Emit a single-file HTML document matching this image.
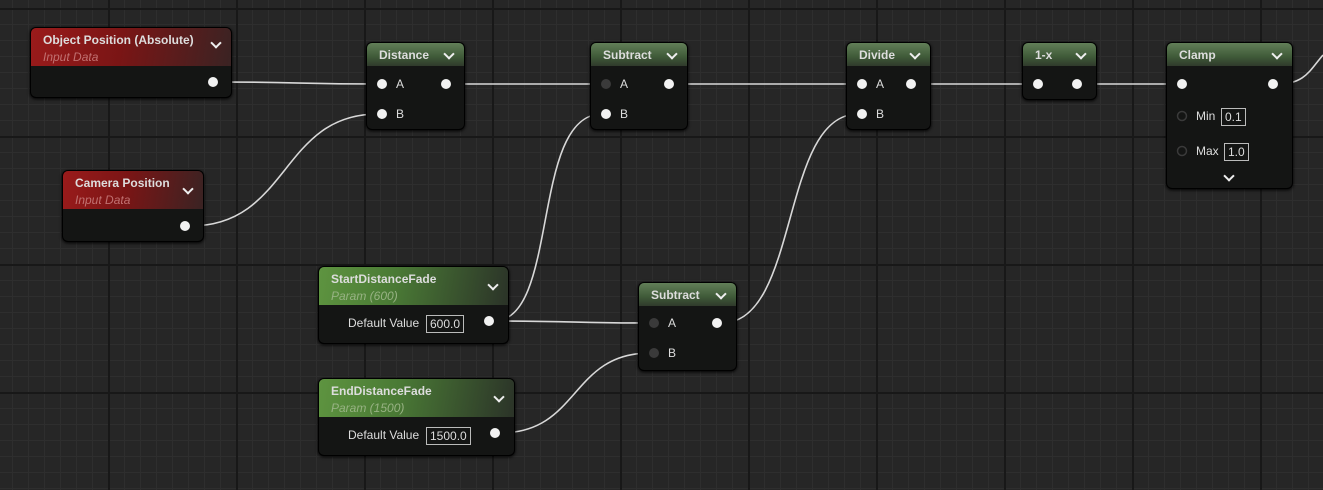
<!DOCTYPE html>
<html><head><style>
body{margin:0;width:1323px;height:490px;overflow:hidden;background:#262626;font-family:"Liberation Sans",sans-serif;position:relative}
.grid{position:absolute;inset:0;
background-image:
linear-gradient(to right,#181818 2px,transparent 2px),
linear-gradient(to bottom,#181818 2px,transparent 2px),
linear-gradient(to right,#2e2e2e 1px,transparent 1px),
linear-gradient(to bottom,#2e2e2e 1px,transparent 1px);
background-size:128px 128px,128px 128px,16px 16px,16px 16px;
background-position:-20px 8px,-20px 8px,-20px 8px,-20px 8px}
.n{position:absolute;box-sizing:border-box;background:#141514;border:1px solid #000;border-radius:6px;box-shadow:0 1px 3px #000;overflow:hidden}
.h{position:absolute;left:0;right:0;top:0;color:#ddd;font-weight:bold;font-size:12px;padding:5px 12px}
.g{background:linear-gradient(to bottom,#627f58,#3f5a38 60%,#303a2c)}
.g2{background:linear-gradient(100deg,#5e9440 0%,#4a7a35 40%,#2b3328 100%)}
.r{background:linear-gradient(100deg,#9a1b1b 0%,#7a1515 45%,#3a2323 100%)}
.sub{font-style:italic;font-weight:normal;font-size:12px;margin-top:3px}
.r .sub{color:#c07070}.g2 .sub{color:#97b283}
.chev{position:absolute;right:11px;top:7px;width:6px;height:6px;border-right:2px solid #eee;border-bottom:2px solid #eee;transform:rotate(45deg)}
.t{position:absolute;color:#ddd;font-size:12px}
.box{position:absolute;border:1px solid #bbb;color:#ddd;font-size:12px;padding:1px 3px;height:14px;line-height:14px}
</style></head><body>
<div class="grid"></div>
<svg width="1323" height="490" style="position:absolute;left:0;top:0">
<g fill="none" stroke="#d8d8d8" stroke-width="1.6">
<path d="M218,82 C300,82 300,84 378,84"/>
<path d="M190,226 C290,226 280,114 378,114"/>
<path d="M451,84 L602,84"/>
<path d="M494,321 C560,321 530,114 602,114"/>
<path d="M494,321 C570,321 580,323 650,323"/>
<path d="M500,433 C580,433 570,353 650,353"/>
<path d="M674,84 L858,84"/>
<path d="M722,323 C800,323 780,114 858,114"/>
<path d="M916,84 L1034,84"/>
<path d="M1082,84 L1178,84"/>
<path d="M1278,84 C1305,84 1310,70 1323,55"/>
</g></svg>
<div class="n" style="left:30px;top:27px;width:202px;height:71px"><div class="h r" style="height:28px">Object Position  (Absolute)<div class="sub">Input Data</div></div><div class="chev" style="top:11px"></div></div>
<div class="n" style="left:62px;top:170px;width:142px;height:72px"><div class="h r" style="height:28px">Camera Position<div class="sub">Input Data</div></div><div class="chev" style="top:14px"></div></div>
<div class="n" style="left:366px;top:42px;width:99px;height:88px"><div class="h g" style="height:13px;padding-left:12px">Distance</div><div class="chev"></div></div>
<div class="n" style="left:590px;top:42px;width:98px;height:88px"><div class="h g" style="height:13px">Subtract</div><div class="chev"></div></div>
<div class="n" style="left:846px;top:42px;width:85px;height:88px"><div class="h g" style="height:13px">Divide</div><div class="chev"></div></div>
<div class="n" style="left:1022px;top:42px;width:75px;height:58px"><div class="h g" style="height:13px">1-x</div><div class="chev"></div></div>
<div class="n" style="left:1166px;top:42px;width:127px;height:147px"><div class="h g" style="height:13px">Clamp</div><div class="chev"></div></div>
<div class="n" style="left:318px;top:266px;width:191px;height:78px"><div class="h g2" style="height:28px">StartDistanceFade<div class="sub">Param (600)</div></div><div class="chev" style="top:14px"></div></div>
<div class="n" style="left:638px;top:282px;width:99px;height:89px"><div class="h g" style="height:13px">Subtract</div><div class="chev"></div></div>
<div class="n" style="left:318px;top:378px;width:197px;height:78px"><div class="h g2" style="height:28px">EndDistanceFade<div class="sub">Param (1500)</div></div><div class="chev" style="top:14px"></div></div>
<svg width="1323" height="490" style="position:absolute;left:0;top:0">
<g fill="#f2f2f2">
<circle cx="213" cy="82" r="5"/><circle cx="185" cy="226" r="5"/>
<circle cx="382" cy="84" r="5"/><circle cx="382" cy="114" r="5"/><circle cx="446" cy="84" r="5"/>
<circle cx="606" cy="114" r="5"/><circle cx="669" cy="84" r="5"/>
<circle cx="862" cy="84" r="5"/><circle cx="862" cy="114" r="5"/><circle cx="911" cy="84" r="5"/>
<circle cx="1038" cy="84" r="5"/><circle cx="1077" cy="84" r="5"/>
<circle cx="1182" cy="84" r="5"/><circle cx="1273" cy="84" r="5"/>
<circle cx="489" cy="321" r="5"/><circle cx="717" cy="323" r="5"/><circle cx="495" cy="433" r="5"/>
</g>
<g fill="#3a3a3a"><circle cx="606" cy="84" r="5"/><circle cx="654" cy="323" r="5"/><circle cx="654" cy="353" r="5"/></g>
<g fill="none" stroke="#3a3a3a" stroke-width="1.5"><circle cx="1182" cy="116" r="4.5"/><circle cx="1182" cy="151" r="4.5"/></g>
</svg>
<div class="t" style="left:396px;top:77px">A</div><div class="t" style="left:396px;top:107px">B</div>
<div class="t" style="left:620px;top:77px">A</div><div class="t" style="left:620px;top:107px">B</div>
<div class="t" style="left:876px;top:77px">A</div><div class="t" style="left:876px;top:107px">B</div>
<div class="t" style="left:668px;top:316px">A</div><div class="t" style="left:668px;top:346px">B</div>
<div class="t" style="left:1196px;top:109px">Min</div><div class="box" style="left:1221px;top:108px">0.1</div>
<div class="t" style="left:1196px;top:144px">Max</div><div class="box" style="left:1224px;top:143px">1.0</div>
<div class="chev" style="left:1225px;top:172px;right:auto"></div>
<div class="t" style="left:348px;top:316px">Default Value</div><div class="box" style="left:426px;top:315px">600.0</div>
<div class="t" style="left:348px;top:428px">Default Value</div><div class="box" style="left:426px;top:427px">1500.0</div>
</body></html>
